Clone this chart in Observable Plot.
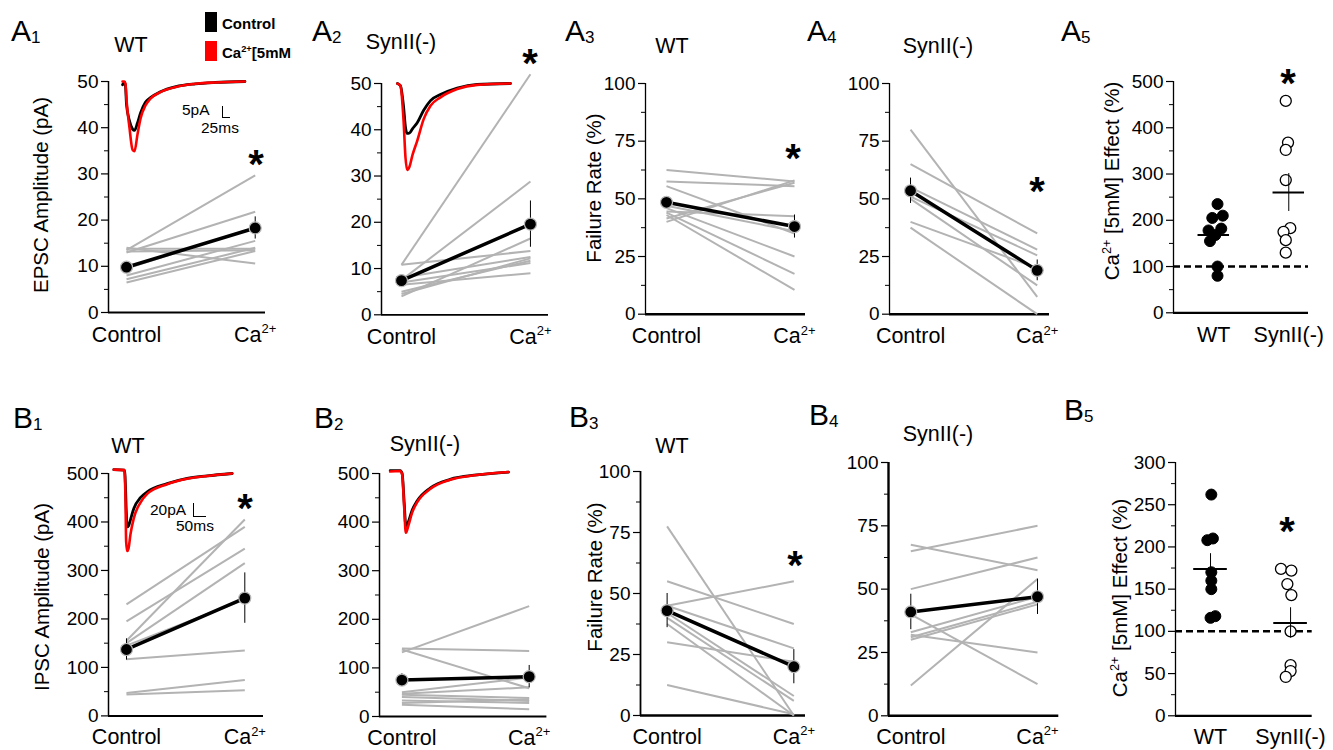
<!DOCTYPE html>
<html><head><meta charset="utf-8">
<script src="https://cdn.jsdelivr.net/npm/d3@7"></script>
<script src="https://cdn.jsdelivr.net/npm/@observablehq/plot@0.6"></script>
<style>
body{margin:0;background:#fff;font-family:"Liberation Sans",Arial,Helvetica,sans-serif;}
#fig{position:relative;width:1333px;height:750px;overflow:hidden;background:#fff;color:#000}
.abs{position:absolute;white-space:nowrap;line-height:1}
.plab{font-size:30px}
.plab sub{font-size:17px;vertical-align:-0.12em;line-height:0}
.ttl{font-size:21.5px;transform:translate(-50%,-50%)}
.ytl{font-size:20.5px;transform:translate(-50%,-50%) rotate(-90deg)}
sup{font-size:0.62em;line-height:0;vertical-align:0.6em}
.star{font-size:40px;font-weight:bold;transform:translate(-50%,-30%)}
.leg{font-size:15px;font-weight:bold;transform:translateY(-50%)}
.sb{font-size:15.5px;transform:translateY(-50%)}
</style></head><body><div id="fig"></div><script>
const ff = '"Liberation Sans", Arial, Helvetica, sans-serif';
const xLabelsLine = ["Control", "Ca2+"];
const xLabelsGroup = ["WT", "SynII(-)"];

// ticks
const tick50 = [0,10,20,30,40,50], minor50 = [5,15,25,35,45];
const tick100 = [0,25,50,75,100], minor100 = [12.5,37.5,62.5,87.5];
const tick500 = [0,100,200,300,400,500], minor500 = [50,150,250,350,450];
const tick300 = [0,50,100,150,200,250,300], minor300 = [25,75,125,175,225,275];

// A1 EPSC amplitude, WT
const a1Ctrl = [13.5, 13.0, 14.0, 13.8, 8.0, 7.2, 6.5, 13.2, 9.5];
const a1Ca   = [29.7, 21.8, 10.6, 13.8, 15.5, 14.0, 13.3, 13.5, 18.4];
const a1Mean = [9.8, 18.3], a1Sem = [0.8, 2.4];
const a1TraceT   = [-0.031,-0.016,-0.008,0.0,0.023,0.047,0.062,0.085,0.109,0.147,0.186,0.264,0.384,0.535,0.69,0.92];
const a1TraceCtl = [49.3,49.8,49.0,45.0,41.5,39.7,39.4,41.0,43.2,45.5,46.5,47.8,48.9,49.5,49.8,50];
const a1TraceCa  = [50,50,49.5,46.0,40.0,35.2,34.9,38.5,42.0,44.8,46.3,47.7,48.8,49.5,49.8,50];

// A2 EPSC amplitude, SynII(-)
const a2Ctrl = [10.8, 7.5, 10.8, 4.0, 4.5, 5.0, 7.0, 6.5, 8.0];
const a2Ca   = [52.0, 28.8, 13.8, 16.5, 12.2, 11.7, 11.2, 9.0, 12.5];
const a2Mean = [7.4, 19.6], a2Sem = [0.9, 5.0];
const a2TraceT   = [-0.031,-0.008,0.016,0.031,0.044,0.062,0.085,0.122,0.172,0.225,0.302,0.432,0.587,0.845];
const a2TraceCtl = [50,49.5,45,40.5,39.2,39.3,40.2,41.5,44.2,46.3,47.6,49,49.8,50];
const a2TraceCa  = [50,49.5,42,34,31.3,32,34.5,37.6,42.3,45.2,47,48.8,49.7,50];

// A3 failure rate, WT
const a3Ctrl = [62.5, 57.5, 55.5, 40, 41.5, 47, 46, 44, 43, 44.5];
const a3Ca   = [57.5, 55.5, 35, 58, 57, 36, 25, 17.5, 10.5, 42.5];
const a3Mean = [48.5, 38], a3Sem = [2, 5];

// A4 failure rate, SynII(-)
const a4Ctrl = [80, 65, 55, 51, 50, 40, 37.5];
const a4Ca   = [7.5, 35, 28, 25.5, 12.5, 20, 0];
const a4Mean = [53.5, 19], a4Sem = [5.5, 4.5];

// A5 Ca effect (%)
const a5Wt  = [235, 210, 205, 182, 178, 168, 155, 100, 80];
const a5WtJit = [0.05, 0.12, -0.02, 0.1, -0.07, 0.02, -0.05, 0.05, 0.05];
const a5Syn = [458, 368, 352, 287, 183, 175, 157, 130];
const a5SynJit = [-0.04, -0.01, -0.04, -0.04, 0.02, -0.07, -0.04, -0.04];
const a5Mean = [168, 260], a5Sem = [10, 41];

// B1 IPSC amplitude, WT
const b1Ctrl = [230, 195, 155, 150, 145, 117, 47, 44];
const b1Ca   = [390, 345, 405, 315, 240, 135, 74, 53];
const b1Mean = [137, 243], b1Sem = [22, 52];
const b1TraceT   = [-0.107,-0.017,-0.008,-0.003,0.006,0.017,0.034,0.062,0.118,0.175,0.344,0.513,0.682,0.893];
const b1TraceCtl = [508,507,470,430,390,392,405,428,450,462,479,490,495,500];
const b1TraceCa  = [508,507,440,360,340,345,375,408,440,458,478,489,495,500];

// B2 IPSC amplitude, SynII(-)
const b2Ctrl = [132, 140, 138, 50, 47, 45, 40, 33, 28, 24];
const b2Ca   = [227, 135, 58, 80, 60, 38, 32, 28, 35, 15];
const b2Mean = [75, 82], b2Sem = [13, 23];
const b2TraceT   = [-0.092,-0.013,0.002,0.018,0.031,0.05,0.081,0.118,0.222,0.379,0.589,0.837];
const b2TraceCtl = [506,506,500,440,392,400,425,443,470,488,497,503];
const b2TraceCa  = [504,505,498,430,378,392,420,440,468,487,497,503];

// B3 failure rate, WT
const b3Ctrl = [77.5, 55, 45, 45, 42, 40, 37.5, 30, 12.5];
const b3Ca   = [0, 37.5, 55, 27.5, 8, 6, 0, 22, 0.5];
const b3Mean = [43, 20], b3Sem = [7, 7];

// B4 failure rate, SynII(-)
const b4Ctrl = [65, 67.5, 50, 40, 32, 12, 33, 31, 30];
const b4Ca   = [75, 57.5, 62.5, 12.5, 25, 54, 47, 45, 44];
const b4Mean = [41, 47], b4Sem = [7, 7];

// B5 Ca effect (%)
const b5Wt  = [262, 210, 208, 170, 160, 150, 118, 116];
const b5WtJit = [0.01, 0.03, -0.04, 0.01, 0.01, 0.01, 0.06, 0.0];
const b5Syn = [174, 172, 156, 143, 100, 60, 53, 46];
const b5SynJit = [-0.12, 0.01, -0.04, 0.01, 0.0, 0.0, 0.0, -0.06];
const b5Mean = [174, 110], b5Sem = [18, 18];

const fig = document.getElementById("fig");
const TICK_FS = 19, XLAB_FS = 21.5;

function supify(svg, fs) {
  d3.select(svg).selectAll("text").each(function() {
    if (this.childElementCount === 0 && this.textContent === "Ca2+") {
      const t = d3.select(this); t.text(null);
      t.append("tspan").text("Ca");
      t.append("tspan").attr("font-size", Math.round(fs * 0.62)).attr("dy", -fs * 0.4).text("2+");
    }
  });
}

function place(svg, left, top, w, h) {
  svg.style.position = "absolute";
  svg.style.left = left + "px";
  svg.style.top = top + "px";
  svg.style.width = w + "px";
  svg.style.height = h + "px";
  svg.style.maxWidth = "none";
  fig.appendChild(svg);
}

function basePlot(p, marks) {
  const ml = 80, mr = 14, mt = 85, mb = 44;
  const W = p.rx - p.ax + ml + mr, H = p.by - p.ty + mt + mb;
  const axes = [
    Plot.ruleX([p.xdom[0]], {stroke: "black", strokeWidth: p.aw || 1.5}),
    Plot.ruleY([0], {stroke: "black", strokeWidth: p.bw || 2}),
    Plot.axisY({ticks: p.minor, tickSize: 4, tickFormat: () => "", label: null, strokeWidth: 1}),
    Plot.axisY({ticks: p.major, tickSize: 7, tickPadding: 3, fontSize: TICK_FS, label: null, strokeWidth: 1.2}),
    Plot.axisX({ticks: [0, 1], tickFormat: d => p.xl[d], tickSize: 0, tickPadding: p.tp || 14, fontSize: XLAB_FS, label: null})
  ];
  const svg = Plot.plot({
    width: W, height: H,
    marginLeft: ml, marginRight: mr, marginTop: mt, marginBottom: mb,
    x: {domain: p.xdom, label: null},
    y: {domain: p.ydom, label: null},
    style: {background: "transparent", overflow: "visible", fontFamily: ff, color: "black"},
    marks: [...axes, ...marks]
  });
  supify(svg, XLAB_FS);
  place(svg, p.ax - ml, p.ty - mt, W, H);
}

function linePanel(p) {
  const pairs = p.ctrl.map((c, i) => ({c, a: p.ca[i]}));
  const means = [{x: 0, y: p.mean[0], e: p.sem[0]}, {x: 1, y: p.mean[1], e: p.sem[1]}];
  const marks = [
    Plot.link(pairs, {x1: () => 0, x2: () => 1, y1: "c", y2: "a", stroke: "#b3b3b3", strokeWidth: 2}),
    Plot.ruleX(means, {x: "x", y1: d => d.y - d.e, y2: d => d.y + d.e, stroke: "black", strokeWidth: 1}),
    Plot.line(means, {x: "x", y: "y", stroke: "black", strokeWidth: 3.5}),
    Plot.dot(means, {x: "x", y: "y", r: 6, fill: "black", stroke: "#b8b8b8", strokeWidth: 1.2})
  ];
  if (p.trace) {
    const tb = p.trace.t.map((t, i) => ({t, v: p.trace.ctl[i]}));
    const tr = p.trace.t.map((t, i) => ({t, v: p.trace.ca[i]}));
    marks.push(Plot.line(tb, {x: "t", y: "v", stroke: "black", strokeWidth: 2.8, curve: "monotone-x"}));
    marks.push(Plot.line(tr, {x: "t", y: "v", stroke: "#ff0000", strokeWidth: 2.6, curve: "monotone-x"}));
  }
  basePlot({...p, xl: xLabelsLine}, marks);
}

function groupPanel(p) {
  const wt = p.wt.map((v, i) => ({x: 0 + p.wtJit[i], y: v}));
  const syn = p.syn.map((v, i) => ({x: 1 + p.synJit[i], y: v}));
  const means = [{x: 0, y: p.mean[0], e: p.sem[0]}, {x: 1, y: p.mean[1], e: p.sem[1]}];
  const marks = [
    Plot.ruleY([100], {stroke: "black", strokeWidth: 2.5, strokeDasharray: "7,4"}),
    Plot.dot(wt, {x: "x", y: "y", r: 5.5, fill: "black", stroke: "black", strokeWidth: 1}),
    Plot.dot(syn, {x: "x", y: "y", r: 5.5, fill: "white", stroke: "black", strokeWidth: 1.3}),
    Plot.ruleY(means, {y: "y", x1: d => d.x - 0.21, x2: d => d.x + 0.21, stroke: "black", strokeWidth: 2}),
    Plot.ruleX(means, {x: "x", y1: d => d.y - d.e, y2: d => d.y + d.e, stroke: "black", strokeWidth: 1})
  ];
  basePlot({...p, xl: xLabelsGroup}, marks);
}

// Panels (geometry in page pixels)
linePanel({ax: 108, rx: 265, ty: 81, by: 312, xdom: [-0.14, 1.08], ydom: [0, 50], major: tick50, minor: minor50, aw: 1.5, bw: 1.8,
  ctrl: a1Ctrl, ca: a1Ca, mean: a1Mean, sem: a1Sem, trace: {t: a1TraceT, ctl: a1TraceCtl, ca: a1TraceCa}});
linePanel({ax: 381, rx: 548, ty: 82.7, by: 314, xdom: [-0.155, 1.14], ydom: [0, 50], major: tick50, minor: minor50, aw: 1.5, bw: 1.8,
  ctrl: a2Ctrl, ca: a2Ca, mean: a2Mean, sem: a2Sem, trace: {t: a2TraceT, ctl: a2TraceCtl, ca: a2TraceCa}});
linePanel({ax: 645, rx: 805, ty: 83.3, by: 314, xdom: [-0.164, 1.086], ydom: [0, 100], major: tick100, minor: minor100, aw: 1.3, bw: 2.6,
  ctrl: a3Ctrl, ca: a3Ca, mean: a3Mean, sem: a3Sem});
linePanel({ax: 889, rx: 1049, ty: 83.3, by: 314, xdom: [-0.166, 1.097], ydom: [0, 100], major: tick100, minor: minor100, aw: 1.3, bw: 2.6,
  ctrl: a4Ctrl, ca: a4Ca, mean: a4Mean, sem: a4Sem});
groupPanel({ax: 1173, rx: 1308, ty: 81, by: 312.3, xdom: [-0.537, 1.263], ydom: [0, 500], major: tick500, minor: minor500, aw: 1.3, bw: 2.2,
  wt: a5Wt, wtJit: a5WtJit, syn: a5Syn, synJit: a5SynJit, mean: a5Mean, sem: a5Sem});

linePanel({ax: 108, rx: 263, ty: 473.3, by: 715.7, xdom: [-0.152, 1.158], ydom: [0, 500], major: tick500, minor: minor500, aw: 1.5, bw: 2,
  ctrl: b1Ctrl, ca: b1Ca, mean: b1Mean, sem: b1Sem, trace: {t: b1TraceT, ctl: b1TraceCtl, ca: b1TraceCa}, tp: 13});
linePanel({ax: 379.3, rx: 546.7, ty: 472.7, by: 715.7, xdom: [-0.176, 1.139], ydom: [0, 500], major: tick500, minor: minor500, aw: 1.5, bw: 2,
  ctrl: b2Ctrl, ca: b2Ca, mean: b2Mean, sem: b2Sem, trace: {t: b2TraceT, ctl: b2TraceCtl, ca: b2TraceCa}, tp: 13});
linePanel({ax: 640, rx: 805, ty: 471, by: 715, xdom: [-0.21, 1.092], ydom: [0, 100], major: tick100, minor: minor100, aw: 1.8, bw: 2.6,
  ctrl: b3Ctrl, ca: b3Ca, mean: b3Mean, sem: b3Sem, tp: 13});
linePanel({ax: 887.7, rx: 1058, ty: 461.7, by: 715, xdom: [-0.176, 1.168], ydom: [0, 100], major: tick100, minor: minor100, aw: 2.4, bw: 2.6,
  ctrl: b4Ctrl, ca: b4Ca, mean: b4Mean, sem: b4Sem, tp: 13});
groupPanel({ax: 1175, rx: 1311.7, ty: 461.7, by: 715, xdom: [-0.4375, 1.27], ydom: [0, 300], major: tick300, minor: minor300, aw: 1.3, bw: 2.2,
  wt: b5Wt, wtJit: b5WtJit, syn: b5Syn, synJit: b5SynJit, mean: b5Mean, sem: b5Sem, tp: 13});

// HTML annotations
function add(cls, html, left, top) {
  const d = document.createElement("div");
  d.className = "abs " + cls;
  d.innerHTML = html;
  d.style.left = left + "px";
  d.style.top = top + "px";
  fig.appendChild(d);
  return d;
}
const panelLabels = [["A","1",11,16],["A","2",312,16],["A","3",565,16],["A","4",807,16],["A","5",1061,16],
                     ["B","1",13,403],["B","2",314,403],["B","3",569,402],["B","4",809,400],["B","5",1064,395]];
panelLabels.forEach(([m, s, x, y]) => add("plab", `${m}<sub>${s}</sub>`, x, y));

const titles = [["WT",131,46],["SynII(-)",401,43],["WT",672,47],["SynII(-)",938,47],
                ["WT",128,447],["SynII(-)",425,445],["WT",672,447],["SynII(-)",938,435]];
titles.forEach(([t, x, y]) => add("ttl", t, x, y));

const yTitles = [["EPSC Amplitude (pA)",41,195],["Failure Rate (%)",594,188],["Ca<sup>2+</sup> [5mM] Effect (%)",1112,181],
                 ["IPSC Amplitude (pA)",42,597],["Failure Rate (%)",595,577],["Ca<sup>2+</sup> [5mM] Effect (%)",1120,598]];
yTitles.forEach(([t, x, y]) => add("ytl", t, x, y));

const stars = [[256,156],[530,55],[793,150],[1037,183],[1288,75],[245,500],[795,557],[1287,523]];
stars.forEach(([x, y]) => add("star", "*", x, y));

// legend
const r1 = add("", "", 205, 12); Object.assign(r1.style, {width: "12px", height: "20px", background: "#000"});
const r2 = add("", "", 205, 41); Object.assign(r2.style, {width: "12px", height: "20px", background: "#ff0000"});
add("leg", "Control", 222, 23);
add("leg", "Ca<sup>2+</sup>[5mM", 222, 52);

// scale bars
add("sb", "5pA", 182, 110);
const s1 = add("", "", 222, 106); Object.assign(s1.style, {width: "7px", height: "11px", borderLeft: "1.5px solid #000", borderBottom: "1.5px solid #000"});
add("sb", "25ms", 201, 128);
add("sb", "20pA", 150, 510);
const s2 = add("", "", 193, 503); Object.assign(s2.style, {width: "12px", height: "13px", borderLeft: "1.5px solid #000", borderBottom: "1.5px solid #000"});
add("sb", "50ms", 176, 526);
</script></body></html>
